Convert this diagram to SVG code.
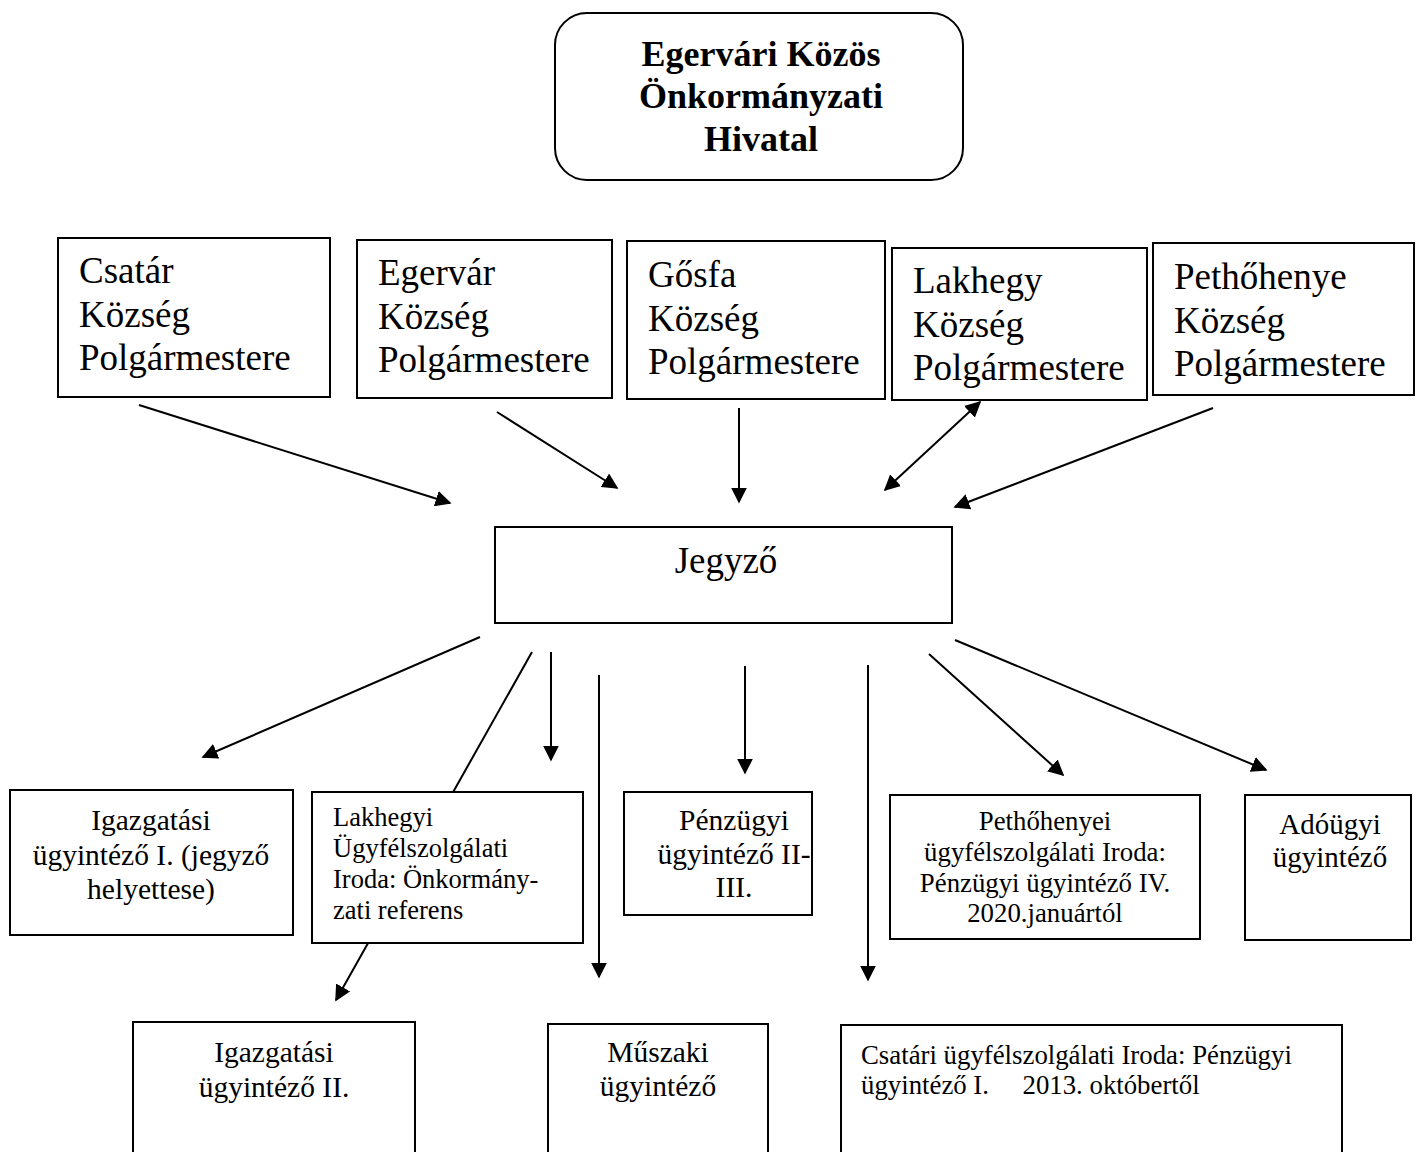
<svg xmlns="http://www.w3.org/2000/svg" width="1416" height="1152" viewBox="0 0 1416 1152">
<style>
.box{fill:#fff;stroke:#000;stroke-width:2}
.t{font-family:"Liberation Serif","Times New Roman",serif;fill:#000}
.c{text-anchor:middle}
.conn line{stroke:#000;stroke-width:2}
</style>
<defs>
<marker id="ahb" viewBox="0 0 10 10" refX="9" refY="5" markerWidth="16" markerHeight="16" markerUnits="userSpaceOnUse" orient="auto-start-reverse">
<path d="M0,0 L10,5 L0,10 z" fill="#000"/>
</marker>
</defs>
<rect width="1416" height="1152" fill="#fff"/>
<g class="conn" id="connectors">
<line x1="139" y1="405" x2="450" y2="503" marker-end="url(#ahb)"/>
<line x1="497" y1="412" x2="617" y2="488" marker-end="url(#ahb)"/>
<line x1="739" y1="408" x2="739" y2="502" marker-end="url(#ahb)"/>
<line x1="980" y1="402" x2="885" y2="490" marker-start="url(#ahb)" marker-end="url(#ahb)"/>
<line x1="1213" y1="408" x2="955" y2="507" marker-end="url(#ahb)"/>
<line x1="480" y1="637" x2="203" y2="757" marker-end="url(#ahb)"/>
<line x1="532" y1="652" x2="336" y2="1000" marker-end="url(#ahb)"/>
<line x1="551" y1="652" x2="551" y2="760" marker-end="url(#ahb)"/>
<line x1="599" y1="675" x2="599" y2="977" marker-end="url(#ahb)"/>
<line x1="745" y1="666" x2="745" y2="773" marker-end="url(#ahb)"/>
<line x1="868" y1="665" x2="868" y2="980" marker-end="url(#ahb)"/>
<line x1="929" y1="654" x2="1063" y2="775" marker-end="url(#ahb)"/>
<line x1="955" y1="640" x2="1266" y2="770" marker-end="url(#ahb)"/>
</g>
<g id="hivatal">
<rect class="box" x="555" y="13" width="408" height="167" rx="32"/>
<text class="t c" font-size="36" font-weight="bold"><tspan x="761" y="66">Egervári Közös</tspan><tspan x="761" y="108">Önkormányzati</tspan><tspan x="761" y="151">Hivatal</tspan></text>
</g>
<g id="csatar">
<rect class="box" x="58" y="238" width="272" height="159"/>
<text class="t" font-size="37"><tspan x="79" y="283">Csatár</tspan><tspan x="79" y="327">Község</tspan><tspan x="79" y="370">Polgármestere</tspan></text>
</g>
<g id="egervar">
<rect class="box" x="357" y="240" width="255" height="158"/>
<text class="t" font-size="37"><tspan x="378" y="285">Egervár</tspan><tspan x="378" y="329">Község</tspan><tspan x="378" y="372">Polgármestere</tspan></text>
</g>
<g id="gosfa">
<rect class="box" x="627" y="241" width="258" height="158"/>
<text class="t" font-size="37"><tspan x="648" y="287">Gősfa</tspan><tspan x="648" y="331">Község</tspan><tspan x="648" y="374">Polgármestere</tspan></text>
</g>
<g id="lakhegy">
<rect class="box" x="892" y="248" width="255" height="152"/>
<text class="t" font-size="37"><tspan x="913" y="293">Lakhegy</tspan><tspan x="913" y="337">Község</tspan><tspan x="913" y="380">Polgármestere</tspan></text>
</g>
<g id="pethohenye">
<rect class="box" x="1153" y="243" width="261" height="152"/>
<text class="t" font-size="37"><tspan x="1174" y="289">Pethőhenye</tspan><tspan x="1174" y="333">Község</tspan><tspan x="1174" y="376">Polgármestere</tspan></text>
</g>
<g id="jegyzo">
<rect class="box" x="495" y="527" width="457" height="96"/>
<text class="t c" font-size="37" x="726" y="573">Jegyző</text>
</g>
<g id="igazgatasi1">
<rect class="box" x="10" y="790" width="283" height="145"/>
<text class="t c" font-size="29.5"><tspan x="151" y="830">Igazgatási</tspan><tspan x="151" y="865">ügyintéző I. (jegyző</tspan><tspan x="151" y="899">helyettese)</tspan></text>
</g>
<g id="lakhegyi">
<rect class="box" x="312" y="792" width="271" height="151"/>
<text class="t" font-size="26.5"><tspan x="333" y="826">Lakhegyi</tspan><tspan x="333" y="857">Ügyfélszolgálati</tspan><tspan x="333" y="888">Iroda: Önkormány-</tspan><tspan x="333" y="919">zati referens</tspan></text>
</g>
<g id="penzugyi">
<rect class="box" x="624" y="792" width="188" height="123"/>
<text class="t c" font-size="29.5"><tspan x="734" y="830">Pénzügyi</tspan><tspan x="734" y="864">ügyintéző II-</tspan><tspan x="734" y="897">III.</tspan></text>
</g>
<g id="pethohenyei">
<rect class="box" x="890" y="795" width="310" height="144"/>
<text class="t c" font-size="26.8"><tspan x="1045" y="830">Pethőhenyei</tspan><tspan x="1045" y="861">ügyfélszolgálati Iroda:</tspan><tspan x="1045" y="892">Pénzügyi ügyintéző IV.</tspan><tspan x="1045" y="922">2020.januártól</tspan></text>
</g>
<g id="adougyi">
<rect class="box" x="1245" y="795" width="166" height="145"/>
<text class="t c" font-size="29"><tspan x="1330" y="834">Adóügyi</tspan><tspan x="1330" y="867">ügyintéző</tspan></text>
</g>
<g id="igazgatasi2">
<rect class="box" x="133" y="1022" width="282" height="140"/>
<text class="t c" font-size="29.5"><tspan x="274" y="1062">Igazgatási</tspan><tspan x="274" y="1097">ügyintéző II.</tspan></text>
</g>
<g id="muszaki">
<rect class="box" x="548" y="1024" width="220" height="140"/>
<text class="t c" font-size="29.5"><tspan x="658" y="1062">Műszaki</tspan><tspan x="658" y="1096">ügyintéző</tspan></text>
</g>
<g id="csatari">
<rect class="box" x="841" y="1025" width="501" height="140"/>
<text class="t" font-size="26.8" xml:space="preserve"><tspan x="861" y="1064">Csatári ügyfélszolgálati Iroda: Pénzügyi</tspan><tspan x="861" y="1094">ügyintéző I.     2013. októbertől</tspan></text>
</g>
</svg>
